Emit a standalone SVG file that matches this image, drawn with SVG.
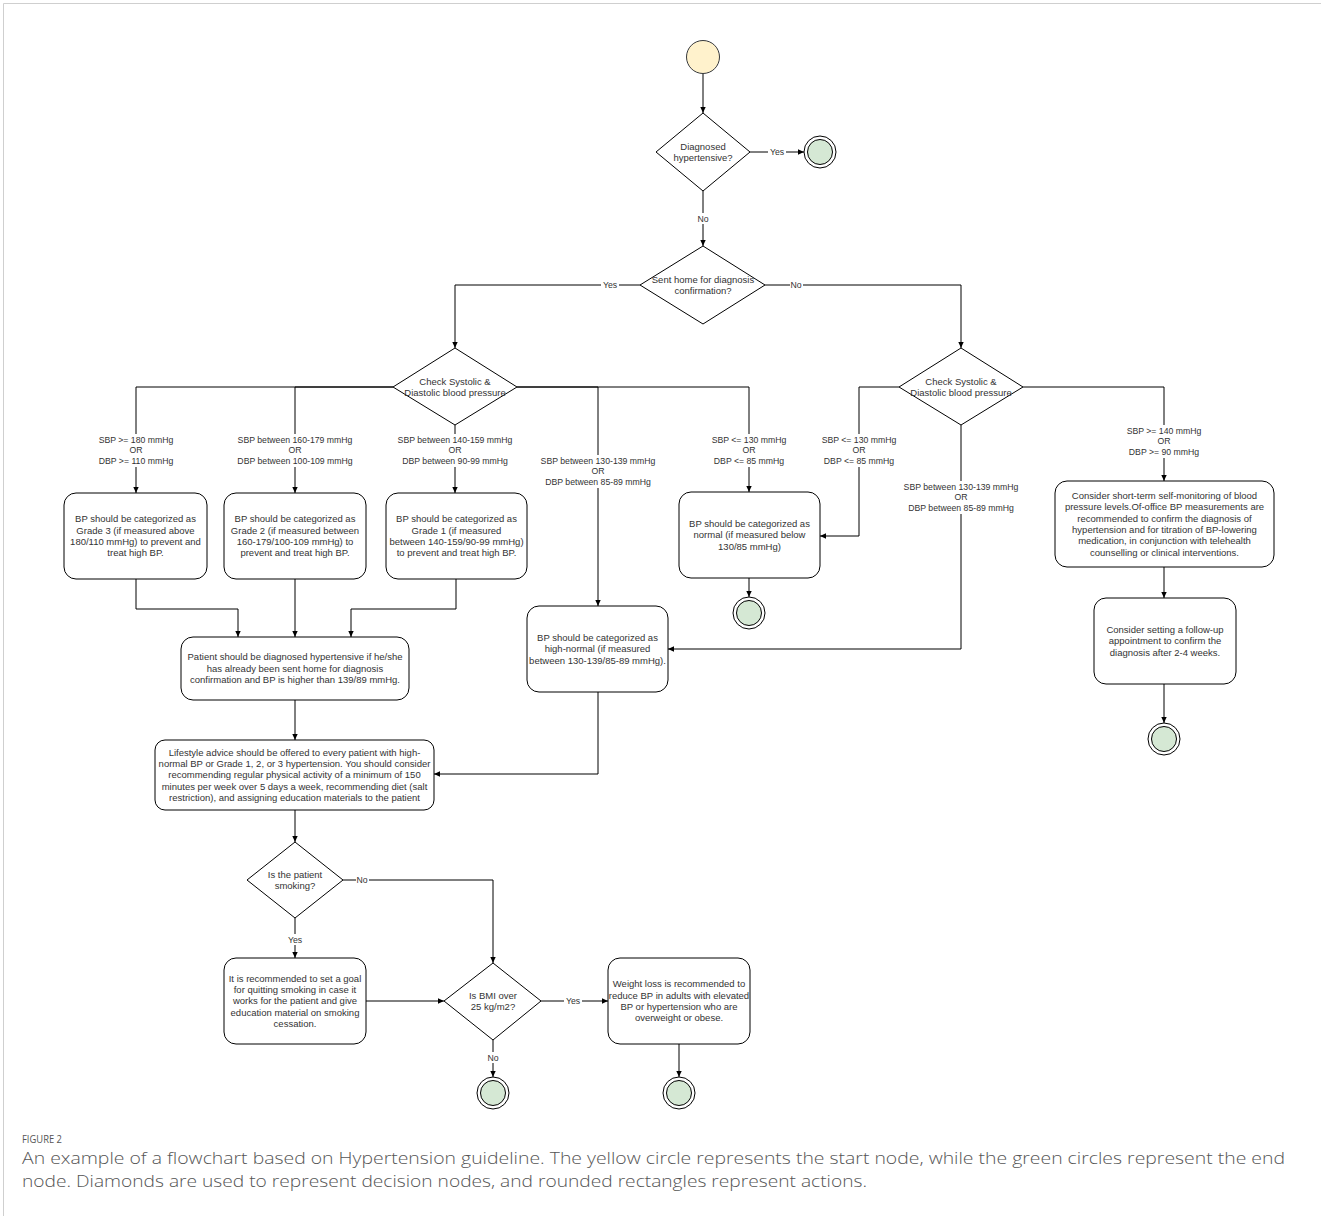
<svg xmlns="http://www.w3.org/2000/svg" width="1321" height="1216" viewBox="0 0 1321 1216">
<defs>
<marker id="arr" viewBox="0 0 10 10" refX="9" refY="5" markerWidth="7" markerHeight="7" markerUnits="userSpaceOnUse" orient="auto">
<path d="M0,1 L9,5 L0,9 Z" fill="#000"/>
</marker>
<style>
.box{fill:#fff;stroke:#000;stroke-width:1}
.dia{fill:#fff;stroke:#000;stroke-width:1}
.edge{fill:none;stroke:#000;stroke-width:1;marker-end:url(#arr)}
.line{fill:none;stroke:#000;stroke-width:1}
.t{font-family:"Liberation Sans",Arial,sans-serif;font-size:9.5px;fill:#333;text-anchor:middle}
.lb{font-family:"Liberation Sans",Arial,sans-serif;font-size:8.7px;fill:#333;text-anchor:middle}
.lbg{fill:#fff}
.endo{fill:#fff;stroke:#000;stroke-width:1}
.endi{fill:#d5e8d4;stroke:#000;stroke-width:1}
.cap{font-family:"Open Sans","Noto Sans",sans-serif;fill:#555}
</style>
</defs>
<rect x="0" y="0" width="1321" height="1216" fill="#fff"/>
<path d="M3.5,1216 V3.5 H1321" fill="none" stroke="#cfcfcf" stroke-width="1"/>

<g id="connectors">
<path class="edge" d="M703,73 V113"/>
<path class="edge" d="M750,152 H804"/>
<path class="edge" d="M703,191 V246"/>
<path class="edge" d="M640,285 H455 V348"/>
<path class="edge" d="M765,285 H961 V348"/>
<path class="edge" d="M393,387 H136 V493"/>
<path class="edge" d="M393,387 H295 V493"/>
<path class="edge" d="M455,425 V493"/>
<path class="edge" d="M517,387 H598 V606"/>
<path class="edge" d="M517,387 H749 V492"/>
<path class="edge" d="M899,387 H859 V536 H820"/>
<path class="edge" d="M961,425 V649 H668"/>
<path class="edge" d="M1023,387 H1164 V481"/>
<path class="edge" d="M1164,567 V598"/>
<path class="edge" d="M1164,684 V723"/>
<path class="edge" d="M749,578 V597"/>
<path class="edge" d="M136,579 V609 H238 V637"/>
<path class="edge" d="M295,579 V637"/>
<path class="edge" d="M456,579 V609 H351 V637"/>
<path class="edge" d="M295,700 V740"/>
<path class="edge" d="M598,692 V774 H434"/>
<path class="edge" d="M295,810 V842"/>
<path class="edge" d="M343,880 H493 V963"/>
<path class="edge" d="M295,918 V958"/>
<path class="edge" d="M366,1001 H444"/>
<path class="edge" d="M541,1001 H608"/>
<path class="edge" d="M493,1040 V1077"/>
<path class="edge" d="M679,1044 V1077"/>

<g id="edge-labels">
<rect class="lbg" x="768" y="146" width="18" height="11"/><text class="lb" x="777" y="155">Yes</text>
<rect class="lbg" x="697" y="213" width="13" height="11"/><text class="lb" x="703" y="222">No</text>
<rect class="lbg" x="601" y="279" width="18" height="11"/><text class="lb" x="610" y="288">Yes</text>
<rect class="lbg" x="790" y="279" width="13" height="11"/><text class="lb" x="796" y="288">No</text>
<rect class="lbg" x="356" y="874" width="13" height="11"/><text class="lb" x="362" y="883">No</text>
<rect class="lbg" x="286" y="934" width="18" height="11"/><text class="lb" x="295" y="943">Yes</text>
<rect class="lbg" x="564" y="995" width="18" height="11"/><text class="lb" x="573" y="1004">Yes</text>
<rect class="lbg" x="487" y="1052" width="13" height="11"/><text class="lb" x="493" y="1061">No</text>

<rect class="lbg" x="95" y="434" width="82" height="33"/>
<text class="lb" x="136" y="443">SBP &gt;= 180 mmHg<tspan x="136" dy="10.4">OR</tspan><tspan x="136" dy="10.4">DBP &gt;= 110 mmHg</tspan></text>
<rect class="lbg" x="237" y="434" width="116" height="33"/>
<text class="lb" x="295" y="443">SBP between 160-179 mmHg<tspan x="295" dy="10.4">OR</tspan><tspan x="295" dy="10.4">DBP between 100-109 mmHg</tspan></text>
<rect class="lbg" x="397" y="434" width="116" height="33"/>
<text class="lb" x="455" y="443">SBP between 140-159 mmHg<tspan x="455" dy="10.4">OR</tspan><tspan x="455" dy="10.4">DBP between 90-99 mmHg</tspan></text>
<rect class="lbg" x="540" y="455" width="116" height="33"/>
<text class="lb" x="598" y="464">SBP between 130-139 mmHg<tspan x="598" dy="10.4">OR</tspan><tspan x="598" dy="10.4">DBP between 85-89 mmHg</tspan></text>
<rect class="lbg" x="709" y="434" width="80" height="33"/>
<text class="lb" x="749" y="443">SBP &lt;= 130 mmHg<tspan x="749" dy="10.4">OR</tspan><tspan x="749" dy="10.4">DBP &lt;= 85 mmHg</tspan></text>
<rect class="lbg" x="819" y="434" width="80" height="33"/>
<text class="lb" x="859" y="443">SBP &lt;= 130 mmHg<tspan x="859" dy="10.4">OR</tspan><tspan x="859" dy="10.4">DBP &lt;= 85 mmHg</tspan></text>
<rect class="lbg" x="903" y="481" width="116" height="33"/>
<text class="lb" x="961" y="490">SBP between 130-139 mmHg<tspan x="961" dy="10.4">OR</tspan><tspan x="961" dy="10.4">DBP between 85-89 mmHg</tspan></text>
<rect class="lbg" x="1124" y="425" width="80" height="33"/>
<text class="lb" x="1164" y="434">SBP &gt;= 140 mmHg<tspan x="1164" dy="10.4">OR</tspan><tspan x="1164" dy="10.4">DBP &gt;= 90 mmHg</tspan></text>
</g>
</g>

<g id="start"><circle cx="703" cy="57" r="16.5" fill="#fff2cc" stroke="#36393d" stroke-width="1"/></g>

<g id="d-diagnosed">
<polygon class="dia" points="703,113 750,152 703,191 656,152"/>
<text class="t" x="703" y="149.6">Diagnosed<tspan x="703" dy="11.4">hypertensive?</tspan></text>
</g>
<g id="end-1"><circle class="endo" cx="820" cy="152" r="16"/><circle class="endi" cx="820" cy="152" r="12.5"/></g>

<g id="d-senthome">
<polygon class="dia" points="703,246 765,285 703,324 640,285"/>
<text class="t" x="703" y="282.6">Sent home for diagnosis<tspan x="703" dy="11.4">confirmation?</tspan></text>
</g>

<g id="d-check-left">
<polygon class="dia" points="455,348 517,387 455,425 393,387"/>
<text class="t" x="455" y="384.6">Check Systolic &amp;<tspan x="455" dy="11.4">Diastolic blood pressure</tspan></text>
</g>

<g id="d-check-right">
<polygon class="dia" points="961,348 1023,387 961,425 899,387"/>
<text class="t" x="961" y="384.6">Check Systolic &amp;<tspan x="961" dy="11.4">Diastolic blood pressure</tspan></text>
</g>

<g id="box-grade3">
<rect class="box" x="64" y="493" width="143" height="86" rx="12"/>
<text class="t" x="135.5" y="522.2">BP should be categorized as<tspan x="135.5" dy="11.4">Grade 3 (if measured above</tspan><tspan x="135.5" dy="11.4">180/110 mmHg) to prevent and</tspan><tspan x="135.5" dy="11.4">treat high BP.</tspan></text>
</g>
<g id="box-grade2">
<rect class="box" x="224" y="493" width="142" height="86" rx="12"/>
<text class="t" x="295" y="522.2">BP should be categorized as<tspan x="295" dy="11.4">Grade 2 (if measured between</tspan><tspan x="295" dy="11.4">160-179/100-109 mmHg) to</tspan><tspan x="295" dy="11.4">prevent and treat high BP.</tspan></text>
</g>
<g id="box-grade1">
<rect class="box" x="386" y="493" width="141" height="86" rx="12"/>
<text class="t" x="456.5" y="522.2">BP should be categorized as<tspan x="456.5" dy="11.4">Grade 1 (if measured</tspan><tspan x="456.5" dy="11.4">between 140-159/90-99 mmHg)</tspan><tspan x="456.5" dy="11.4">to prevent and treat high BP.</tspan></text>
</g>

<g id="box-normal">
<rect class="box" x="679" y="492" width="141" height="86" rx="12"/>
<text class="t" x="749.5" y="526.9">BP should be categorized as<tspan x="749.5" dy="11.4">normal (if measured below</tspan><tspan x="749.5" dy="11.4">130/85 mmHg)</tspan></text>
</g>
<g id="end-normal"><circle class="endo" cx="749" cy="613" r="16"/><circle class="endi" cx="749" cy="613" r="12.5"/></g>

<g id="box-selfmonitor">
<rect class="box" x="1055" y="481" width="219" height="86" rx="12"/>
<text class="t" x="1164.5" y="498.8">Consider short-term self-monitoring of blood<tspan x="1164.5" dy="11.4">pressure levels.Of-office BP measurements are</tspan><tspan x="1164.5" dy="11.4">recommended to confirm the diagnosis of</tspan><tspan x="1164.5" dy="11.4">hypertension and for titration of BP-lowering</tspan><tspan x="1164.5" dy="11.4">medication, in conjunction with telehealth</tspan><tspan x="1164.5" dy="11.4">counselling or clinical interventions.</tspan></text>
</g>
<g id="box-followup">
<rect class="box" x="1094" y="598" width="142" height="86" rx="12"/>
<text class="t" x="1165" y="632.9">Consider setting a follow-up<tspan x="1165" dy="11.4">appointment to confirm the</tspan><tspan x="1165" dy="11.4">diagnosis after 2-4 weeks.</tspan></text>
</g>
<g id="end-followup"><circle class="endo" cx="1164" cy="739" r="16"/><circle class="endi" cx="1164" cy="739" r="12.5"/></g>

<g id="box-diagnosed">
<rect class="box" x="181" y="637" width="228" height="63" rx="12"/>
<text class="t" x="295" y="660.4">Patient should be diagnosed hypertensive if he/she<tspan x="295" dy="11.4">has already been sent home for diagnosis</tspan><tspan x="295" dy="11.4">confirmation and BP is higher than 139/89 mmHg.</tspan></text>
</g>
<g id="box-highnormal">
<rect class="box" x="527" y="606" width="141" height="86" rx="12"/>
<text class="t" x="597.5" y="640.9">BP should be categorized as<tspan x="597.5" dy="11.4">high-normal (if measured</tspan><tspan x="597.5" dy="11.4">between 130-139/85-89 mmHg).</tspan></text>
</g>

<g id="box-lifestyle">
<rect class="box" x="155" y="740" width="279" height="70" rx="10"/>
<text class="t" x="294.5" y="755.5">Lifestyle advice should be offered to every patient with high-<tspan x="294.5" dy="11.4">normal BP or Grade 1, 2, or 3 hypertension. You should consider</tspan><tspan x="294.5" dy="11.4">recommending regular physical activity of a minimum of 150</tspan><tspan x="294.5" dy="11.4">minutes per week over 5 days a week, recommending diet (salt</tspan><tspan x="294.5" dy="11.4">restriction), and assigning education materials to the patient</tspan></text>
</g>

<g id="d-smoking">
<polygon class="dia" points="295,842 343,880 295,918 247,880"/>
<text class="t" x="295" y="877.6">Is the patient<tspan x="295" dy="11.4">smoking?</tspan></text>
</g>
<g id="box-quit">
<rect class="box" x="224" y="958" width="142" height="86" rx="12"/>
<text class="t" x="295" y="981.5">It is recommended to set a goal<tspan x="295" dy="11.4">for quitting smoking in case it</tspan><tspan x="295" dy="11.4">works for the patient and give</tspan><tspan x="295" dy="11.4">education material on smoking</tspan><tspan x="295" dy="11.4">cessation.</tspan></text>
</g>
<g id="d-bmi">
<polygon class="dia" points="493,963 541,1001 493,1040 444,1001"/>
<text class="t" x="493" y="998.6">Is BMI over<tspan x="493" dy="11.4">25 kg/m2?</tspan></text>
</g>
<g id="end-bmi"><circle class="endo" cx="493" cy="1093" r="16"/><circle class="endi" cx="493" cy="1093" r="12.5"/></g>
<g id="box-weight">
<rect class="box" x="608" y="958" width="142" height="86" rx="12"/>
<text class="t" x="679" y="987.2">Weight loss is recommended to<tspan x="679" dy="11.4">reduce BP in adults with elevated</tspan><tspan x="679" dy="11.4">BP or hypertension who are</tspan><tspan x="679" dy="11.4">overweight or obese.</tspan></text>
</g>
<g id="end-weight"><circle class="endo" cx="679" cy="1093" r="16"/><circle class="endi" cx="679" cy="1093" r="12.5"/></g>

<g id="caption">
<text class="cap" x="22" y="1143" font-size="11.5" textLength="40" lengthAdjust="spacingAndGlyphs">FIGURE 2</text>
<text class="cap" x="22" y="1164" font-size="17" font-weight="300" textLength="1263" lengthAdjust="spacingAndGlyphs">An example of a flowchart based on Hypertension guideline. The yellow circle represents the start node, while the green circles represent the end</text>
<text class="cap" x="22" y="1187" font-size="17" font-weight="300" textLength="845" lengthAdjust="spacingAndGlyphs">node. Diamonds are used to represent decision nodes, and rounded rectangles represent actions.</text>
</g>
</svg>
